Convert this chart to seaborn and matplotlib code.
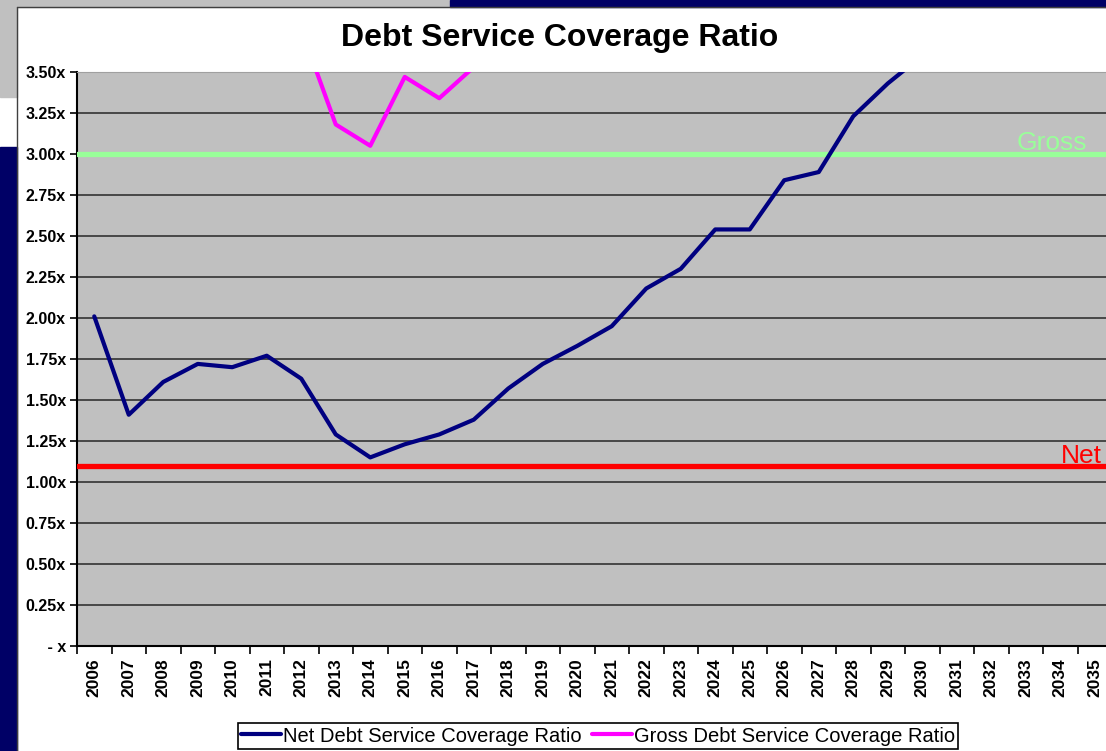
import numpy as np
import pandas as pd
import matplotlib
matplotlib.use("Agg")
import matplotlib.pyplot as plt
from matplotlib.patches import Rectangle
from matplotlib.ticker import FuncFormatter, FixedLocator
import seaborn as sns

# data
years = [str(y) for y in range(2006, 2036)]
net_dscr = [2.01, 1.41, 1.61, 1.72, 1.70, 1.77, 1.63, 1.29, 1.15, 1.23,
            1.29, 1.38, 1.57, 1.72, 1.83, 1.95, 2.18, 2.30, 2.54, 2.54,
            2.84, 2.89, 3.23, 3.43, 3.60, np.nan, np.nan, np.nan, np.nan, np.nan]
gross_dscr = [np.nan, np.nan, np.nan, np.nan, np.nan, np.nan, 3.76, 3.18, 3.05, 3.47,
              3.34, 3.53, 3.75, np.nan, np.nan, np.nan, np.nan, np.nan, np.nan, np.nan,
              np.nan, np.nan, np.nan, np.nan, np.nan, np.nan, np.nan, np.nan, np.nan, np.nan]
gross_target = 3.00
net_target = 1.10

df = pd.DataFrame({
    "idx": list(range(len(years))) * 2,
    "value": net_dscr + gross_dscr,
    "series": ["Net Debt Service Coverage Ratio"] * len(years)
              + ["Gross Debt Service Coverage Ratio"] * len(years),
})

sns.set_style("white", {"axes.facecolor": "#C0C0C0"})
plt.rcParams["font.family"] = ["Liberation Sans", "DejaVu Sans"]
plt.rcParams["text.color"] = "black"
plt.rcParams["xtick.color"] = "black"
plt.rcParams["ytick.color"] = "black"

fig = plt.figure(figsize=(11.06, 7.51), dpi=100)
fig.patch.set_facecolor("white")

# screenshot border bits
W, H = 1106, 751
def px_rect(x0, y0, x1, y1, color):
    fig.patches.append(Rectangle((x0 / W, 1 - y1 / H), (x1 - x0) / W, (y1 - y0) / H,
                                 transform=fig.transFigure, color=color, zorder=0))
px_rect(0, 0, 450, 7, "#C0C0C0")
px_rect(450, 0, 1106, 7, "#000066")
px_rect(0, 0, 17, 97, "#C0C0C0")
px_rect(0, 147, 17, 751, "#000066")
fig.lines.append(plt.Line2D([17 / W, 17 / W], [0, 1 - 7 / H], transform=fig.transFigure,
                            color="#404040", linewidth=1))
fig.lines.append(plt.Line2D([17 / W, 1], [1 - 7 / H, 1 - 7 / H], transform=fig.transFigure,
                            color="#404040", linewidth=1))

ax = fig.add_axes([77 / W, 1 - 646 / H, (1112 - 77) / W, (646 - 72) / H])

sns.lineplot(data=df, x="idx", y="value", hue="series",
             palette={"Net Debt Service Coverage Ratio": "#000080",
                      "Gross Debt Service Coverage Ratio": "#FF00FF"},
             linewidth=3, ax=ax, zorder=5)

ax.axhline(gross_target, color="#99FF99", linewidth=3.8, zorder=4)
ax.axhline(net_target, color="#FF0000", linewidth=3.8, zorder=4)
fig.text(1087 / W, 1 - 155 / H, "Gross", color="#99FF99",
         fontsize=19, ha="right", va="bottom", zorder=6)
fig.text(1102 / W, 1 - 468 / H, "Net", color="#FF0000",
         fontsize=19, ha="right", va="bottom", zorder=6)

ax.set_xlim(-0.5, len(years) - 0.5)
ax.set_ylim(0, 3.5)
ax.set_yticks(np.arange(0, 3.51, 0.25))
ax.yaxis.set_major_formatter(FuncFormatter(lambda v, p: " - x" if v == 0 else f"{v:.2f}x"))
ax.grid(axis="y", color="#333333", linewidth=1.2)
ax.set_axisbelow(True)

ax.set_xticks(range(len(years)))
ax.set_xticklabels(years, rotation=90, fontweight="bold", fontsize=12.5)
ax.xaxis.set_minor_locator(FixedLocator(np.arange(-0.5, len(years), 1)))
ax.tick_params(axis="x", which="major", length=0, pad=9)
ax.tick_params(axis="x", which="minor", length=6, width=1.2, color="black", bottom=True)
ax.tick_params(axis="y", length=5, width=1.2, color="black", left=True, labelsize=11.5, pad=3)
for lab in ax.get_yticklabels():
    lab.set_fontweight("bold")

for side in ["left", "bottom"]:
    ax.spines[side].set_color("black")
    ax.spines[side].set_linewidth(1.5)
ax.spines["top"].set_color("#A0A0A0")
ax.spines["right"].set_visible(False)

ax.set_xlabel("")
ax.set_ylabel("")

fig.text(560 / W, 1 - 38 / H, "Debt Service Coverage Ratio", ha="center", va="center",
         fontsize=23, fontweight="bold", color="black")

handles, labels = ax.get_legend_handles_labels()
leg = fig.legend(handles, labels, loc="center", bbox_to_anchor=(598 / W, 1 - 736 / H),
                 ncol=2, frameon=True, fancybox=False, edgecolor="black", facecolor="white",
                 framealpha=1, fontsize=14.5, handlelength=2.0, handletextpad=0.1,
                 columnspacing=0.5, borderpad=0.15, borderaxespad=0)
leg.get_frame().set_linewidth(1.2)
for t in leg.get_texts():
    t.set_color("black")
ax.get_legend().remove()

fig.savefig("out.png", dpi=100)
